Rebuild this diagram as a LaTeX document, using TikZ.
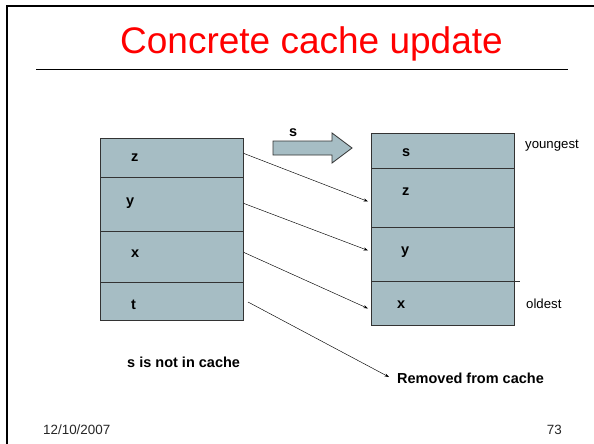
\documentclass[tikz,border=0pt]{standalone}
\usepackage{fontspec}
\setmainfont{Liberation Sans}
\usetikzlibrary{arrows.meta}
\definecolor{cellfill}{RGB}{166,189,196}
\begin{document}
\begin{tikzpicture}[x=1pt,y=-1pt,
  cell/.style={draw=black!80,line width=0.9pt,fill=cellfill,inner sep=0pt,
    minimum width=143pt,anchor=north west},
  lbl/.style={font=\fontsize{14.5}{17}\selectfont\bfseries,inner sep=0pt,anchor=base west},
  side/.style={font=\fontsize{13.2}{16}\selectfont,inner sep=0pt,anchor=base west},
  foot/.style={font=\fontsize{13.4}{16}\selectfont,color=black!85,inner sep=0pt},
  move/.style={line width=0.45pt,-{Stealth[length=4.5pt,width=3pt]}}]
\useasboundingbox (0,0) rectangle (594,444);
\fill[white] (0,0) rectangle (594,444);
% slide frame
\draw[line width=2.4pt] (7,444) -- (7,6) -- (594,6);
% title and rule
\node[font=\fontsize{37}{40}\selectfont,color=red,inner sep=0pt,anchor=base] (title) at (311.5,54) {Concrete cache update};
\draw[line width=0.9pt] (36,69) -- (568,69);

% old cache contents
\node[cell,minimum height=39pt] (L1) at (100,138) {};
\node[cell,minimum height=54pt] (L2) at (100,177) {};
\node[cell,minimum height=51pt] (L3) at (100,231) {};
\node[cell,minimum height=38pt] (L4) at (100,282) {};
\node[lbl] (lz) at (131,161) {z};
\node[lbl] (ly) at (126,205.5) {y};
\node[lbl] (lx) at (131,257) {x};
\node[lbl] (lt) at (131,309) {t};

% new cache contents
\node[cell,minimum height=35pt] (R1) at (371,133) {};
\node[cell,minimum height=59pt] (R2) at (371,168) {};
\node[cell,minimum height=54pt] (R3) at (371,227) {};
\node[cell,minimum height=44pt] (R4) at (371,281) {};
\draw[line width=0.9pt,black!80] (R4.north east) -- ++(5pt,0);
\node[lbl] (rs) at (402,156) {s};
\node[lbl] (rz) at (402,195) {z};
\node[lbl] (ry) at (401,254) {y};
\node[lbl] (rx) at (397,308) {x};
\node[side] (young) at (525,148) {youngest};
\node[side] (old) at (526,308) {oldest};

% incoming element
\draw[line width=0.8pt,black!80,fill=cellfill]
  (273,141) -- (332,141) -- (332,133) -- (352,148) -- (332,163) -- (332,155) -- (273,155) -- cycle;
\node[lbl] (sin) at (289,136) {s};

% notes
\node[lbl] (note) at (127,367) {s is not in cache};
\node[lbl] (rm) at (397,383) {Removed from cache};

% moves
\draw[move] ([yshift=4.5pt]L1.east) -- ([yshift=-3.5pt,xshift=-3pt]R2.west);
\draw[move] ([yshift=1pt]L2.east) -- ([yshift=4pt,xshift=-3pt]R3.west);
\draw[move] ([yshift=4.5pt]L3.east) -- ([yshift=-5pt,xshift=-3pt]R4.west);
\coordinate (tout) at (248,302);
\draw[move] (tout) -- ([shift={(-8pt,6pt)}]rm.base west);

% footer
\node[foot,anchor=base west] (date) at (43,434) {12/10/2007};
\node[foot,anchor=base east] (page) at (562,434) {73};
\end{tikzpicture}
\end{document}
